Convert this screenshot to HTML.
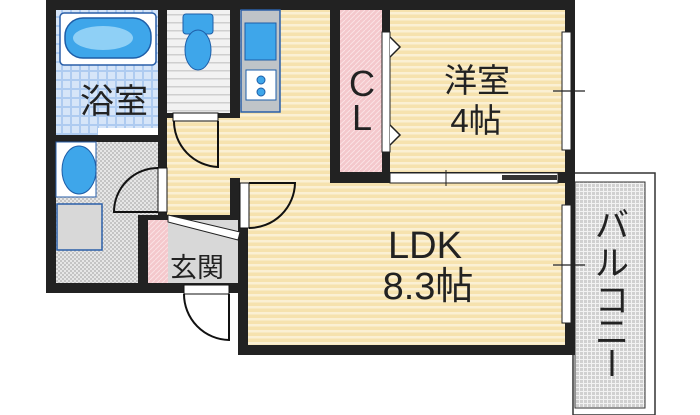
<!DOCTYPE html>
<html><head><meta charset="utf-8"><style>
html,body{margin:0;padding:0;background:#fff;width:700px;height:415px;overflow:hidden}
svg{display:block}
text{font-family:"Liberation Sans","Noto Sans CJK JP",sans-serif;fill:#222}
</style></head><body>
<svg width="700" height="415" viewBox="0 0 700 415">
<defs>
<pattern id="fl" width="6" height="6" patternUnits="userSpaceOnUse"><rect width="6" height="6" fill="#f6e2ae"/><rect y="0" width="6" height="2.5" fill="#fbf0d4"/></pattern>
<pattern id="ch" width="4" height="4" patternUnits="userSpaceOnUse"><rect width="4" height="4" fill="#e6e6e6"/><rect width="2" height="2" fill="#c4c4c4"/><rect x="2" y="2" width="2" height="2" fill="#c4c4c4"/></pattern>
<pattern id="pk" width="5" height="5" patternUnits="userSpaceOnUse"><rect width="5" height="5" fill="#f4c8cc"/><path d="M0 5L5 0" stroke="#fbe2e4" stroke-width="1"/></pattern>
<pattern id="tl" width="9" height="9" patternUnits="userSpaceOnUse"><rect width="9" height="9" fill="#aecbf0"/><rect width="7" height="7" fill="#d6e5f8"/></pattern>
<pattern id="ts" width="8" height="8" patternUnits="userSpaceOnUse"><rect width="8" height="8" fill="#f2f2f2"/><rect y="6" width="8" height="1.5" fill="#cfcfcf"/></pattern>
<pattern id="bl" width="4" height="4" patternUnits="userSpaceOnUse"><rect width="4" height="4" fill="#f2f2f2"/><rect width="3" height="3" fill="#d0d0d0"/></pattern>
</defs>
<rect x="573" y="173" width="82" height="242" fill="#fff" stroke="#333" stroke-width="1.5"/>
<rect x="575" y="182" width="70" height="226" fill="url(#bl)" stroke="#333" stroke-width="1"/>
<rect x="46" y="0" width="529" height="183" fill="#222"/>
<rect x="46" y="0" width="194" height="293" fill="#222"/>
<rect x="238" y="170" width="337" height="185" fill="#222"/>
<rect x="56" y="10" width="102" height="125" fill="url(#tl)"/>
<rect x="60" y="13" width="96" height="52" rx="4" fill="#fff" stroke="#2a5fa8" stroke-width="1.5"/>
<rect x="65" y="18" width="86" height="40" rx="18" fill="#3ea6ea" stroke="#1e5ea8" stroke-width="1.5"/>
<ellipse cx="103" cy="38" rx="30" ry="12" fill="#8fd0f6"/>
<rect x="98" y="128" width="60" height="7" fill="#fff"/>
<rect x="167" y="10" width="63" height="103" fill="url(#ts)"/>
<rect x="183" y="14" width="30" height="20" rx="3" fill="#3ea6ea" stroke="#1e5ea8"/>
<ellipse cx="198" cy="50" rx="13" ry="20" fill="#3ea6ea" stroke="#1e5ea8"/>
<rect x="240" y="10" width="90" height="172" fill="url(#fl)"/>
<rect x="167" y="118" width="63" height="97" fill="url(#fl)"/>
<rect x="230" y="118" width="12" height="60" fill="url(#fl)"/>
<rect x="241" y="10" width="39" height="102" fill="#bfc4c8" stroke="#2a5fa8" stroke-width="1.5"/>
<rect x="245" y="23" width="31" height="37" fill="#3ea6ea" stroke="#1e5ea8"/>
<rect x="246" y="70" width="30" height="30" fill="#fff" stroke="#1e5ea8"/>
<circle cx="261" cy="80" r="4" fill="#3ea6ea" stroke="#1e5ea8"/><circle cx="261" cy="92" r="4" fill="#3ea6ea" stroke="#1e5ea8"/>
<rect x="340" y="10" width="42" height="162" fill="url(#pk)"/>
<rect x="390" y="10" width="175" height="162" fill="url(#fl)"/>
<rect x="382" y="32" width="8" height="120" fill="#fff" stroke="#222"/>
<path d="M390 37l10 10l-10 10M390 125l10 10l-10 10" fill="#fff" stroke="#222" stroke-width="1.5"/>
<rect x="562" y="32" width="9" height="118" fill="#fff" stroke="#222"/>
<line x1="553" y1="91" x2="585" y2="91" stroke="#222" stroke-width="1.2"/>
<rect x="248" y="183" width="317" height="162" fill="url(#fl)"/>
<rect x="240" y="182" width="90" height="10" fill="url(#fl)"/>
<rect x="390" y="173" width="168" height="10" fill="#fff" stroke="#222"/>
<rect x="502" y="175" width="55" height="5" fill="#333"/>
<line x1="446" y1="170" x2="446" y2="186" stroke="#222"/>
<rect x="562" y="205" width="9" height="118" fill="#fff" stroke="#222"/>
<line x1="553" y1="265" x2="585" y2="265" stroke="#222" stroke-width="1.2"/>
<rect x="56" y="142" width="82" height="141" fill="url(#ch)"/>
<rect x="56" y="142" width="40" height="55" fill="#fff" stroke="#2a5fa8"/>
<ellipse cx="79" cy="170" rx="17" ry="24" fill="#3ea6ea" stroke="#1e5ea8"/>
<rect x="57" y="204" width="45" height="46" fill="#d8d8d8" stroke="#2a5fa8" stroke-width="1.5"/>
<rect x="138" y="142" width="20" height="73" fill="url(#ch)"/>
<rect x="148" y="220" width="20" height="63" fill="url(#pk)"/>
<rect x="168" y="220" width="70" height="63" fill="#d8d8d8"/>
<polygon points="168,215 240,232 238,240 168,222" fill="#fff" stroke="#222"/>
<g fill="none" stroke="#111" stroke-width="2">
<rect x="173" y="113" width="45" height="8" fill="#fff" stroke-width="1"/>
<path d="M218 121v46A46 46 0 0 1 174 121"/>
<rect x="158" y="168" width="9" height="44" fill="#fff" stroke-width="1"/>
<path d="M158 168A44 44 0 0 0 114 212h44"/>
<rect x="240" y="183" width="9" height="45" fill="#fff" stroke-width="1"/>
<path d="M249 183h46A46 46 0 0 1 249 228"/>
<rect x="184" y="285" width="45" height="9" fill="#fff" stroke-width="1"/>
<path d="M229 294v46A46 46 0 0 1 184 294"/>
</g>
<text x="114" y="113" font-size="34" text-anchor="middle">浴室</text>
<text x="197" y="277" font-size="27" text-anchor="middle">玄関</text>
<text x="362" y="96" font-size="36" text-anchor="middle">C</text>
<text x="362" y="130" font-size="36" text-anchor="middle">L</text>
<text x="477" y="92" font-size="33" text-anchor="middle">洋室</text>
<text x="476" y="132" font-size="33" text-anchor="middle">4帖</text>
<text x="425" y="258" font-size="38" text-anchor="middle">LDK</text>
<text x="428" y="299" font-size="38" text-anchor="middle">8.3帖</text>
<text x="612" y="237" font-size="34" text-anchor="middle">バ</text>
<text x="612" y="275" font-size="34" text-anchor="middle">ル</text>
<text x="612" y="312" font-size="34" text-anchor="middle">コ</text>
<text x="612" y="344" font-size="34" text-anchor="middle">ニ</text>
<line x1="612" y1="350" x2="612" y2="376" stroke="#222" stroke-width="3"/>
</svg>
</body></html>
